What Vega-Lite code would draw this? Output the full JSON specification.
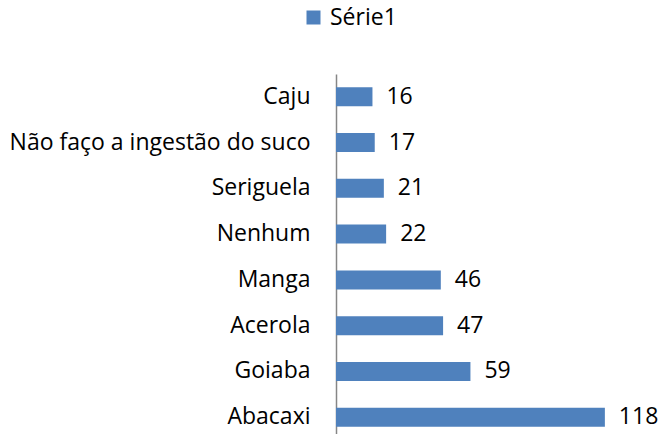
{
  "$schema": "https://vega.github.io/schema/vega-lite/v6.json",
  "autosize": "none",
  "width": 319,
  "height": 366,
  "padding": {"left": 336, "top": 74, "right": 8, "bottom": 0},
  "background": "white",
  "config": {"view": {"stroke": null}, "font": "Open Sans"},
  "data": {"values": [
    {"fruta": "Caju", "valor": 16, "serie": "Série1"},
    {"fruta": "Não faço a ingestão do suco", "valor": 17, "serie": "Série1"},
    {"fruta": "Seriguela", "valor": 21, "serie": "Série1"},
    {"fruta": "Nenhum", "valor": 22, "serie": "Série1"},
    {"fruta": "Manga", "valor": 46, "serie": "Série1"},
    {"fruta": "Acerola", "valor": 47, "serie": "Série1"},
    {"fruta": "Goiaba", "valor": 59, "serie": "Série1"},
    {"fruta": "Abacaxi", "valor": 118, "serie": "Série1"}
  ]},
  "encoding": {
    "y": {"field": "fruta", "type": "nominal", "sort": null,
      "scale": {"paddingInner": 0.585, "paddingOuter": 0.29},
      "axis": {"title": null, "ticks": false, "domainColor": "#868686", "domainWidth": 1.5,
        "labelFontSize": 23, "labelColor": "#000000", "labelPadding": 26, "labelLimit": 400, "labelFont": "Open Sans"}},
    "x": {"field": "valor", "type": "quantitative", "scale": {"domain": [0, 140], "nice": false}, "axis": null}
  },
  "layer": [
    {"mark": {"type": "bar", "color": "#4F81BD"},
     "encoding": {"color": {"field": "serie", "type": "nominal", "scale": {"range": ["#4F81BD"]},
       "legend": {"title": null, "orient": "none", "legendX": -34, "legendY": -68, "symbolType": "square", "symbolSize": 196, "symbolStrokeWidth": 0, "labelFontSize": 23, "labelColor": "#000000", "labelFont": "Open Sans", "symbolOffset": 0, "labelOffset": 5}}}},
    {"mark": {"type": "text", "align": "left", "baseline": "middle", "dx": 14, "fontSize": 23, "color": "#000000", "font": "Open Sans"},
     "encoding": {"text": {"field": "valor", "type": "quantitative"}}}
  ]
}
